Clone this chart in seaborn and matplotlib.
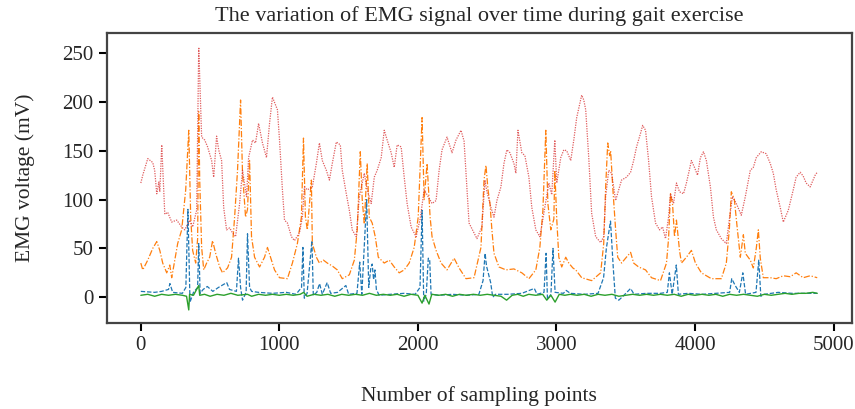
import matplotlib
matplotlib.use("Agg")
import matplotlib.pyplot as plt
import seaborn as sns
import pandas as pd

title = "The variation of EMG signal over time during gait exercise"
x_label = "Number of sampling points"
y_label = "EMG voltage (mV)"
x_ticks = [0, 1000, 2000, 3000, 4000, 5000]
y_ticks = [0, 50, 100, 150, 200, 250]

blue_x = [0, 100, 150, 200, 210, 230, 300, 325, 340, 355, 380, 410, 418, 428, 450, 480, 520, 560, 620,
          640, 690, 705, 720, 734, 760, 770, 785, 800, 850, 950, 1050, 1120, 1160, 1170, 1180, 1200,
          1235, 1245, 1270, 1290, 1310, 1345, 1370, 1420, 1480, 1500, 1560, 1580, 1595, 1630, 1645,
          1660, 1670, 1680, 1690, 1700, 1720, 1800, 1900, 1980, 2015, 2030, 2042, 2060, 2075, 2085,
          2095, 2150, 2250, 2350, 2440, 2470, 2485, 2495, 2525, 2540, 2560, 2650, 2750, 2840, 2860,
          2910, 2925, 2935, 2960, 2975, 2990, 3050, 3070, 3100, 3200, 3300, 3340, 3360, 3390, 3410,
          3425, 3450, 3480, 3535, 3560, 3650, 3750, 3800, 3815, 3835, 3865, 3880, 3950, 4050, 4150,
          4250, 4265, 4290, 4320, 4345, 4365, 4440, 4460, 4475, 4500, 4600, 4700, 4800, 4882]
blue_y = [6, 5, 6, 8, 14, 5, 4, 10, 90, -5, 5, 10, 55, 4, 8, 11, 6, 10, 15,
          8, 6, 40, 10, -3, 5, 65, 10, 6, 5, 4, 5, 3, 10, 51, -1, 4,
          58, 2, 5, 14, 3, 15, 4, 5, 12, 3, 4, 36, 3, 100, 10,
          30, 34, 18, 28, 8, 2, 3, 4, 3, 10, 89, -4, 3, 40, 38,
          3, 2, 3, 2, 3, 17, 45, 32, 15, 0, 3, 3, 4, 9, 3,
          5, 45, -2, 3, 50, 5, 4, 7, 4, 3, 4, 20, 50, 78, 30,
          -1, -3, 1, 9, 3, 4, 4, 5, 25, 3, 33, 3, 4, 3, 4,
          5, 19, 12, 5, 25, 3, 5, 38, 1, 3, 5, 4, 4, 4]

orange_x = [0, 14, 50, 86, 115, 137, 158, 187, 209, 223, 245, 266, 295, 324, 331, 346, 360, 374, 396,
            410, 418, 425, 439, 454, 475, 497, 518, 540, 569, 590, 626, 655, 677, 698, 720, 734, 756,
            770, 785, 799, 821, 857, 893, 914, 943, 965, 1001, 1058, 1094, 1130, 1159, 1174, 1188,
            1202, 1217, 1231, 1238, 1267, 1289, 1318, 1346, 1382, 1418, 1454, 1505, 1541, 1562, 1584,
            1598, 1613, 1634, 1649, 1670, 1692, 1714, 1757, 1793, 1829, 1865, 1901, 1937, 1973, 2002,
            2030, 2045, 2066, 2088, 2102, 2131, 2167, 2210, 2261, 2297, 2347, 2405, 2455, 2477, 2491,
            2506, 2520, 2534, 2549, 2585, 2635, 2693, 2750, 2801, 2851, 2880, 2902, 2923, 2938, 2959,
            2981, 2988, 3002, 3017, 3038, 3067, 3089, 3118, 3139, 3182, 3254, 3319, 3341, 3355, 3370,
            3384, 3391, 3406, 3427, 3442, 3470, 3499, 3535, 3557, 3593, 3643, 3686, 3751, 3794, 3809,
            3823, 3838, 3852, 3866, 3888, 3902, 3938, 3974, 4003, 4046, 4118, 4190, 4226, 4248, 4262,
            4284, 4306, 4327, 4349, 4363, 4399, 4421, 4442, 4457, 4471, 4493, 4543, 4586, 4637, 4687,
            4730, 4781, 4831, 4882]
orange_y = [35, 28, 38, 50, 57, 48, 35, 25, 33, 20, 38, 55, 69, 110, 130, 171, 82, 48, 35,
            60, 190, 120, 51, 28, 35, 41, 58, 45, 31, 25, 30, 41, 82, 130, 202, 127, 82,
            90, 140, 62, 41, 31, 41, 51, 38, 28, 20, 19, 35, 55, 82, 163, 82,
            69, 95, 120, 55, 41, 35, 38, 35, 32, 28, 19, 23, 38, 69, 149,
            100, 75, 137, 82, 76, 62, 41, 35, 38, 31, 25, 28, 35, 51, 82,
            184, 100, 137, 82, 62, 48, 35, 28, 40, 30, 19, 20, 51, 120, 135,
            110, 96, 69, 45, 31, 28, 29, 25, 19, 28, 51, 89, 171, 96, 69,
            80, 130, 80, 41, 31, 41, 35, 30, 28, 20, 17, 25, 55, 113, 158,
            145, 150, 113, 69, 41, 35, 40, 46, 35, 31, 28, 20, 17, 35, 60,
            106, 95, 62, 79, 48, 35, 41, 48, 35, 25, 19, 19, 35, 70, 108,
            100, 69, 41, 64, 45, 38, 30, 50, 69, 40, 20, 20, 19, 22, 21,
            25, 20, 22, 20]

green_x = [0, 50, 100, 150, 200, 250, 300, 330, 346, 352, 380, 418, 425, 460, 500, 550, 600, 650, 700,
           770, 800, 850, 900, 950, 1000, 1050, 1100, 1150, 1175, 1200, 1250, 1300, 1350, 1400, 1450,
           1500, 1550, 1600, 1650, 1700, 1750, 1800, 1850, 1900, 1950, 2000, 2030, 2050, 2080, 2100,
           2150, 2200, 2250, 2300, 2350, 2400, 2450, 2500, 2550, 2600, 2640, 2680, 2720, 2760, 2800,
           2850, 2900, 2930, 2960, 2990, 3020, 3060, 3100, 3150, 3200, 3250, 3300, 3350, 3400, 3450,
           3500, 3550, 3600, 3650, 3700, 3750, 3800, 3850, 3900, 3950, 4000, 4050, 4100, 4150, 4200,
           4250, 4300, 4350, 4400, 4450, 4500, 4550, 4600, 4650, 4700, 4750, 4800, 4850, 4882]
green_y = [2, 3, 1, 3, 2, 3, 2, 1, -13, 3, 2, 12, 2, 3, 1, 3, 2, 4, 2,
           3, 1, 3, 2, 3, 2, 3, 2, 3, 5, 1, 3, 2, 3, 1, 3,
           2, 3, 2, 4, 2, 3, 2, 3, 1, 3, 2, -6, 2, -7, 3,
           2, 3, 1, 3, 2, 3, 2, 3, 2, 1, -3, 2, 3, 1, 3,
           2, 3, -3, 2, -5, 3, 2, 3, 2, 3, 1, 3, 2, 3, 1,
           2, 3, 2, 3, 2, 3, 2, 3, 1, 3, 2, 3, 2, 3, 1,
           3, 2, 3, 2, 1, 3, 2, 3, 4, 3, 4, 4, 5, 4]

red_x = [0, 14, 50, 86, 100, 115, 130, 137, 151, 173, 194, 223, 259, 295, 317, 353, 374, 403, 418, 439,
         461, 482, 511, 526, 547, 562, 583, 598, 619, 641, 662, 684, 713, 734, 763, 778, 806, 828,
         850, 878, 907, 929, 950, 972, 986, 1001, 1022, 1037, 1058, 1087, 1109, 1145, 1166, 1181,
         1202, 1238, 1267, 1289, 1310, 1339, 1361, 1382, 1411, 1440, 1454, 1483, 1505, 1526, 1555,
         1577, 1613, 1634, 1663, 1685, 1706, 1735, 1757, 1778, 1807, 1829, 1850, 1879, 1901, 1922,
         1951, 1987, 2016, 2045, 2074, 2102, 2131, 2153, 2174, 2210, 2246, 2275, 2311, 2333, 2369,
         2426, 2462, 2484, 2498, 2527, 2549, 2570, 2599, 2621, 2642, 2664, 2693, 2707, 2722, 2750,
         2772, 2801, 2822, 2851, 2880, 2902, 2945, 2966, 2988, 3002, 3031, 3053, 3074, 3103, 3125,
         3146, 3182, 3197, 3211, 3233, 3254, 3283, 3319, 3341, 3355, 3377, 3398, 3427, 3449, 3470,
         3506, 3535, 3557, 3578, 3607, 3622, 3643, 3665, 3686, 3715, 3744, 3766, 3787, 3809, 3823,
         3845, 3866, 3888, 3917, 3938, 3974, 3996, 4018, 4039, 4061, 4082, 4111, 4133, 4154, 4190,
         4226, 4248, 4270, 4298, 4334, 4363, 4399, 4421, 4442, 4478, 4514, 4543, 4565, 4586, 4615,
         4637, 4673, 4709, 4730, 4759, 4781, 4802, 4831, 4867, 4882]
red_y = [117, 125, 142, 138, 130, 106, 118, 108, 156, 85, 87, 77, 79, 72, 69, 79, 72, 89, 256, 164,
         161, 154, 140, 123, 165, 151, 140, 92, 69, 71, 66, 62, 96, 130, 103, 143, 161, 158,
         178, 158, 143, 178, 205, 197, 192, 161, 110, 79, 76, 62, 58, 66, 82, 113,
         110, 113, 137, 158, 140, 130, 120, 137, 159, 156, 130, 106, 89, 69, 62,
         103, 127, 110, 96, 123, 130, 143, 171, 161, 148, 133, 156, 154, 123, 96,
         72, 62, 80, 110, 103, 96, 99, 130, 151, 164, 148, 161, 171, 160, 76,
         60, 72, 120, 108, 92, 82, 99, 113, 137, 151, 148, 137, 127, 171, 148,
         145, 123, 92, 69, 62, 80, 117, 105, 161, 117, 143, 151, 150, 140, 161,
         184, 207, 202, 192, 143, 86, 62, 56, 62, 103, 130, 127, 99, 110, 120,
         123, 128, 140, 154, 168, 176, 171, 140, 103, 76, 69, 72, 60, 82, 106,
         96, 117, 108, 106, 117, 140, 133, 125, 143, 149, 140, 113, 82, 69, 60,
         55, 80, 103, 96, 84, 103, 130, 133, 143, 149, 147, 137, 127, 110, 92,
         77, 89, 110, 123, 128, 124, 117, 113, 125, 128]

sns.set_theme(style="ticks")
plt.rcParams['font.family'] = ['Liberation Serif', 'DejaVu Serif']

fig, ax = plt.subplots(figsize=(8.55, 4.09), dpi=100)
fig.subplots_adjust(left=0.125, right=0.996, bottom=0.21, top=0.919)

series = [
    (blue_x, blue_y, "#1f77b4", (0, (3.5, 1.5)), 0.9, 1.0),
    (orange_x, orange_y, "#ff7f0e", (0, (5, 1.5, 1, 1.5)), 0.9, 1.0),
    (green_x, green_y, "#2ca02c", "-", 1.0, 1.0),
    (red_x, red_y, "#d62728", (0, (1, 1)), 0.9, 0.75),
]
for xs, ys, col, ls, lw, al in series:
    df = pd.DataFrame({"x": xs, "y": ys})
    sns.lineplot(data=df, x="x", y="y", ax=ax, color=col, linewidth=lw, alpha=al,
                 linestyle=ls, estimator=None, sort=False)

ax.set_xlim(-245, 5130)
ax.set_ylim(-26.5, 270.5)
ax.set_xticks(x_ticks)
ax.set_yticks(y_ticks)
ax.set_title(title, fontsize=16, pad=9)
ax.set_xlabel(x_label, fontsize=15.5, labelpad=22)
ax.set_ylabel(y_label, fontsize=15.5, labelpad=20)
ax.tick_params(axis="both", labelsize=15, length=6, width=1.5, color="black", direction="out")
for sp in ax.spines.values():
    sp.set_visible(True)
    sp.set_color("#444444")
    sp.set_linewidth(1.6)

fig.savefig("out.png", dpi=100)
